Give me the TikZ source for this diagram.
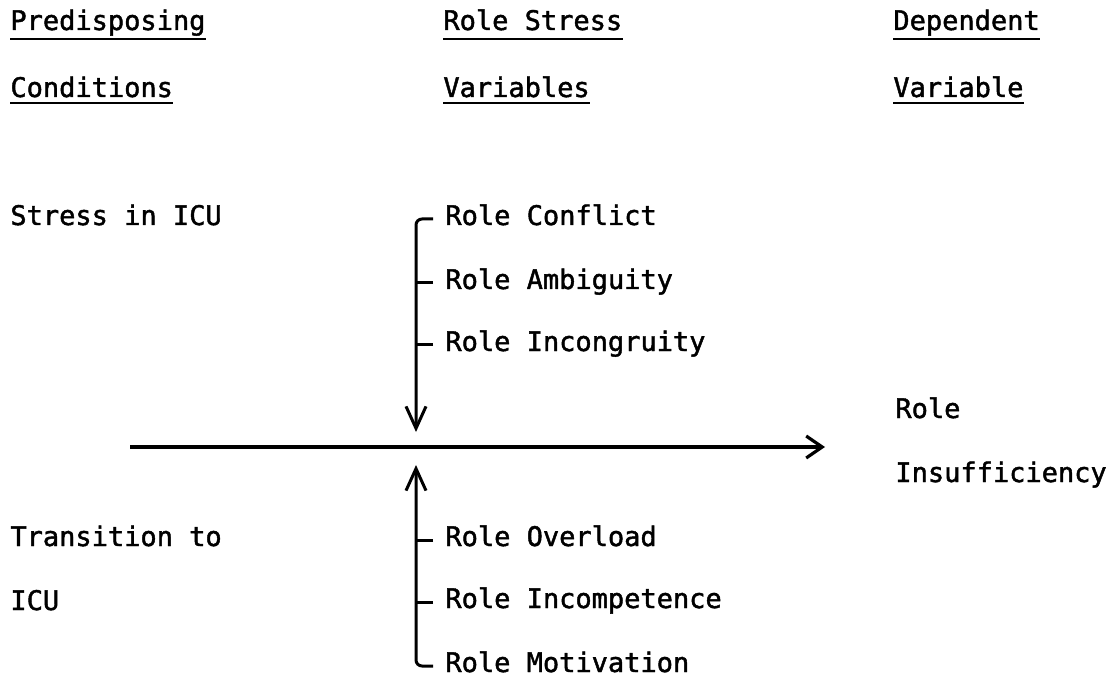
\documentclass[tikz,border=0pt]{standalone}
\usepackage{fontspec}
\usetikzlibrary{arrows.meta}
\newfontfamily\typer[FakeBold=1.6]{DejaVu Sans Mono}

\tikzset{
  label txt/.style={font=\typer\fontsize{13.5}{16}\selectfont, inner sep=0pt, anchor=base west},
  role txt/.style={label txt, inner xsep=6pt},
  uline/.style={line width=1.1pt},
  tick/.style={line width=1.5pt},
  vline/.style={line width=1.5pt, -{Straight Barb[length=11pt,width=10pt,line width=1.5pt]}},
  hline/.style={line width=1.6pt, -{Straight Barb[length=8pt,width=11pt,line width=1.6pt]}}
}

\begin{document}
\begin{tikzpicture}[x=0.5pt, y=-0.5pt]
  \useasboundingbox (0,0) rectangle (1107,678);

  % column heads
  \node[label txt] (pred) at (10,30) {Predisposing};
  \node[label txt] (cond) at (10,97) {Conditions};
  \node[label txt] (rstress) at (443,30) {Role Stress};
  \node[label txt] (rvars) at (443,97) {Variables};
  \node[label txt] (dep) at (893,30) {Dependent};
  \node[label txt] (depvar) at (893,97) {Variable};

  \foreach \n in {pred, rstress, dep}
    \draw[uline] ([yshift=-4.5pt]\n.base west) -- ([yshift=-4.5pt]\n.base east);
  \foreach \n in {cond, rvars, depvar}
    \draw[uline] ([yshift=-3pt]\n.base west) -- ([yshift=-3pt]\n.base east);

  % conditions
  \node[label txt] (stress) at (10,225) {Stress in ICU};
  \node[label txt] (trans) at (10,546) {Transition to};
  \node[label txt] (icu) at (10,610) {ICU};

  % role stress variables
  \node[role txt] (conflict) at (433,225) {Role Conflict};
  \node[role txt] (ambig) at (433,289) {Role Ambiguity};
  \node[role txt] (incong) at (433,351) {Role Incongruity};
  \node[role txt] (overload) at (433,546) {Role Overload};
  \node[role txt] (incomp) at (433,608) {Role Incompetence};
  \node[role txt] (motiv) at (433,672) {Role Motivation};

  % dependent variable
  \node[label txt] (rolei) at (895,418) {Role};
  \node[label txt] (insuf) at (895,482) {Insufficiency};

  \coordinate (downtip) at (416,432);
  \coordinate (uptip) at (416,465);
  \coordinate (lstart) at (130,447);
  \coordinate (rend) at (825,447);

  \draw[vline, rounded corners=3pt] ([yshift=3pt]conflict.base west) -| (downtip);
  \draw[tick] ([yshift=3pt]ambig.base west) -- ([yshift=3pt]ambig.base west -| downtip);
  \draw[tick] ([yshift=3pt]incong.base west) -- ([yshift=3pt]incong.base west -| downtip);

  \draw[vline, rounded corners=3pt] ([yshift=3pt]motiv.base west) -| (uptip);
  \draw[tick] ([yshift=3pt]overload.base west) -- ([yshift=3pt]overload.base west -| uptip);
  \draw[tick] ([yshift=3pt]incomp.base west) -- ([yshift=3pt]incomp.base west -| uptip);

  \draw[hline] (lstart) -- (rend);
\end{tikzpicture}
\end{document}
